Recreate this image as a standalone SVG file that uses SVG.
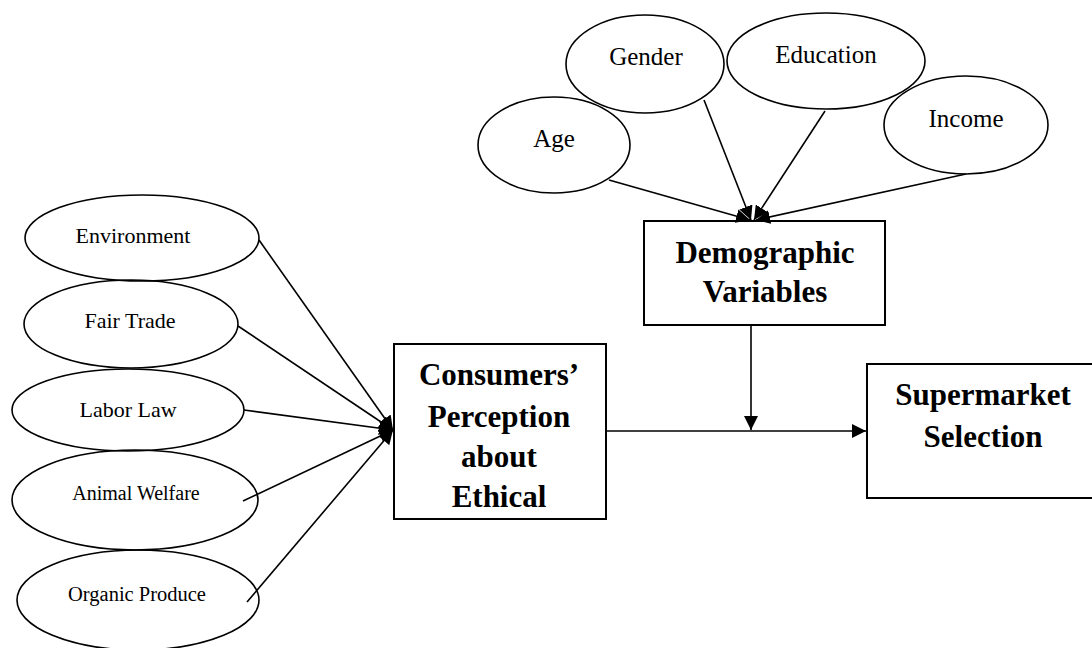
<svg xmlns="http://www.w3.org/2000/svg" width="1092" height="648" viewBox="0 0 1092 648">
<style>
.ell{fill:none;stroke:#000;stroke-width:1.6}
.box{fill:#fff;stroke:#000;stroke-width:2}
.con{stroke:#000;stroke-width:1.6;fill:none}
.t{font-family:"Liberation Serif","Times New Roman",serif;fill:#000;text-anchor:middle}
.b{font-weight:bold;font-size:31px}
</style>
<defs>
<marker id="ah" markerUnits="userSpaceOnUse" markerWidth="16" markerHeight="14" refX="14" refY="7" orient="auto">
<path d="M0,0 L14,7 L0,14 Z" fill="#000"/>
</marker>
</defs>
<rect width="1092" height="648" fill="#fff"/>
<g id="environment"><ellipse class="ell" cx="142" cy="238" rx="117" ry="43"/><text class="t" x="133" y="243" font-size="22">Environment</text></g>
<g id="fair-trade"><ellipse class="ell" cx="131" cy="324" rx="107" ry="44"/><text class="t" x="130" y="328" font-size="22">Fair Trade</text></g>
<g id="labor-law"><ellipse class="ell" cx="128" cy="410" rx="116" ry="41"/><text class="t" x="128" y="417" font-size="22">Labor Law</text></g>
<g id="animal-welfare"><ellipse class="ell" cx="135" cy="500" rx="123" ry="50"/><text class="t" x="136" y="500" font-size="20">Animal Welfare</text></g>
<g id="organic-produce"><ellipse class="ell" cx="138" cy="600" rx="121" ry="50"/><text class="t" x="137" y="601" font-size="20.5">Organic Produce</text></g>
<g id="age"><ellipse class="ell" cx="554" cy="145" rx="76" ry="48"/><text class="t" x="554" y="147" font-size="25">Age</text></g>
<g id="gender"><ellipse class="ell" cx="645" cy="64" rx="79" ry="49"/><text class="t" x="646" y="65" font-size="25">Gender</text></g>
<g id="education"><ellipse class="ell" cx="826" cy="61" rx="99" ry="48"/><text class="t" x="826" y="63" font-size="25">Education</text></g>
<g id="income"><ellipse class="ell" cx="966" cy="125" rx="82" ry="49"/><text class="t" x="966" y="127" font-size="25">Income</text></g>
<g id="demographic"><rect class="box" x="644" y="221" width="241" height="104"/><text class="t b" x="765" y="263">Demographic</text><text class="t b" x="765" y="302">Variables</text></g>
<g id="consumers"><rect class="box" x="394" y="344" width="212" height="175"/><text class="t b" x="499" y="385">Consumers’</text><text class="t b" x="499" y="427">Perception</text><text class="t b" x="499" y="467">about</text><text class="t b" x="499" y="507">Ethical</text></g>
<g id="supermarket"><rect class="box" x="867" y="364" width="232" height="134"/><text class="t b" x="983" y="405">Supermarket</text><text class="t b" x="983" y="447">Selection</text></g>
<g id="connectors">
<line class="con" x1="259" y1="240" x2="393" y2="430" marker-end="url(#ah)"/>
<line class="con" x1="238" y1="326" x2="393" y2="430" marker-end="url(#ah)"/>
<line class="con" x1="244" y1="410" x2="393" y2="430" marker-end="url(#ah)"/>
<line class="con" x1="243" y1="501" x2="393" y2="430" marker-end="url(#ah)"/>
<line class="con" x1="247" y1="602" x2="393" y2="430" marker-end="url(#ah)"/>
<line class="con" x1="609" y1="180" x2="750" y2="220" marker-end="url(#ah)"/>
<line class="con" x1="704" y1="100" x2="751" y2="220" marker-end="url(#ah)"/>
<line class="con" x1="825" y1="111" x2="754" y2="220" marker-end="url(#ah)"/>
<line class="con" x1="966" y1="174" x2="756" y2="220" marker-end="url(#ah)"/>
<line class="con" x1="607" y1="431" x2="866" y2="431" marker-end="url(#ah)"/>
<line class="con" x1="751" y1="326" x2="751" y2="430" marker-end="url(#ah)"/>
</g>
</svg>
